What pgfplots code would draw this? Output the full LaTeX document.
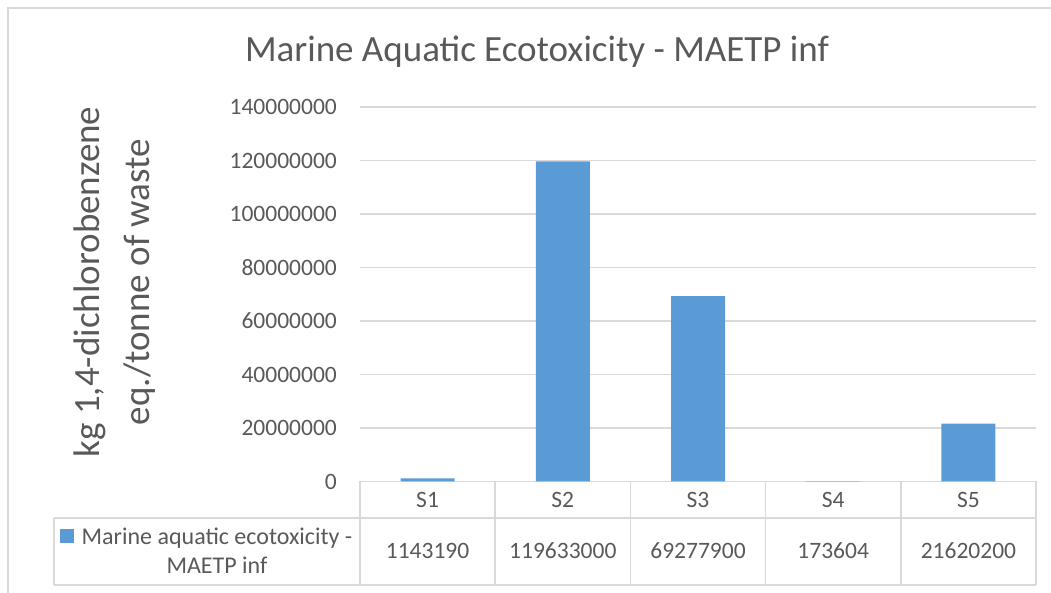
\documentclass[border=0pt]{standalone}
\usepackage{pgfplots}
\pgfplotsset{compat=1.18}
\usepackage{pgfplotstable}
\usepackage{fontspec}
\setmainfont{Carlito}

\definecolor{barblue}{HTML}{5B9BD5}
\definecolor{txt}{HTML}{595959}
\definecolor{rulegray}{HTML}{D9D9D9}

% Marine aquatic ecotoxicity (kg 1,4-DCB eq. per tonne of waste)
\pgfplotstableread{
x cat v
0 S1 1143190
1 S2 119633000
2 S3 69277900
3 S4 173604
4 S5 21620200
}\maetp

\begin{document}
\begin{tikzpicture}[x=1pt,y=1pt]
\path[use as bounding box] (0,0) rectangle (1051,593);
% chart area frame
\draw[rulegray, line width=1.5pt] (8,0) -- (8,585) -- (1051,585);
% chart title
\node[text=txt, font=\fontsize{37}{44}\selectfont] at (537,541) {Marine Aquatic Ecotoxicity - MAETP inf};

\begin{axis}[
  at={(360pt,111.5pt)}, anchor=south west,
  scale only axis, width=676pt, height=374.5pt,
  xmin=-0.5, xmax=4.5, ymin=0, ymax=140000000,
  clip=false,
  axis line style={draw=none},
  major tick length=0pt,
  ymajorgrids,
  grid style={rulegray, line width=1.5pt},
  ytick={0,20000000,40000000,60000000,80000000,100000000,120000000,140000000},
  scaled y ticks=false,
  /pgf/number format/.cd, fixed, precision=0, 1000 sep={}, assume math mode=true,
  /pgfplots/.cd,
  yticklabel style={anchor=east, inner sep=0pt, xshift=-23pt,
    font=\fontsize{23.5}{28}\selectfont, text=txt},
  xtick={0,1,2,3,4},
  xticklabels from table={\maetp}{cat},
  xticklabel style={anchor=center, inner sep=0pt, yshift=-18.5pt,
    font=\fontsize{23.5}{28}\selectfont, text=txt},
  ylabel={kg 1,4-dichlorobenzene\\eq./tonne of waste},
  ylabel style={at={(axis description cs:-0.3624,0.5327)}, anchor=center,
    align=center, font=\fontsize{37}{50}\selectfont, text=txt},
  legend style={at={(axis description cs:-0.2263,-0.1856)}, anchor=center,
    draw=none, fill=none, inner sep=0pt, column sep=6pt,
    font=\fontsize{24}{29}\selectfont, text=txt,
    cells={align=center, inner sep=0pt}},
  legend image code/.code={\fill[barblue] (0pt,8pt) rectangle (14pt,22pt);},
]
% data table grid below the plot
\draw[rulegray, line width=1.5pt] ([xshift=-306pt, yshift=-36.5pt]axis cs:-0.5,0) -- ([yshift=-36.5pt]axis cs:4.5,0);
\draw[rulegray, line width=1.5pt] ([xshift=-306pt, yshift=-103.5pt]axis cs:-0.5,0) -- ([yshift=-103.5pt]axis cs:4.5,0);
\draw[rulegray, line width=1.5pt] ([xshift=-306pt, yshift=-36.5pt]axis cs:-0.5,0) -- ([xshift=-306pt, yshift=-103.5pt]axis cs:-0.5,0);
\pgfplotsinvokeforeach{-0.5,0.5,1.5,2.5,3.5,4.5}{
  \draw[rulegray, line width=1.5pt] (axis cs:#1,0) -- ([yshift=-103.5pt]axis cs:#1,0);
}

\addplot[ybar, bar width=54pt, fill=barblue, draw=none] table[x=x, y=v]{\maetp};
\addlegendentry{Marine aquatic ecotoxicity -\\MAETP inf}

% values row of the data table
\addplot[forget plot, draw=none, mark=none, nodes near coords,
  point meta=explicit symbolic,
  nodes near coords style={anchor=center, yshift=-69.5pt,
    font=\fontsize{23.5}{28}\selectfont, text=txt}]
  table[x=x, y expr=0, meta=v]{\maetp};
\end{axis}
\end{tikzpicture}
\end{document}
